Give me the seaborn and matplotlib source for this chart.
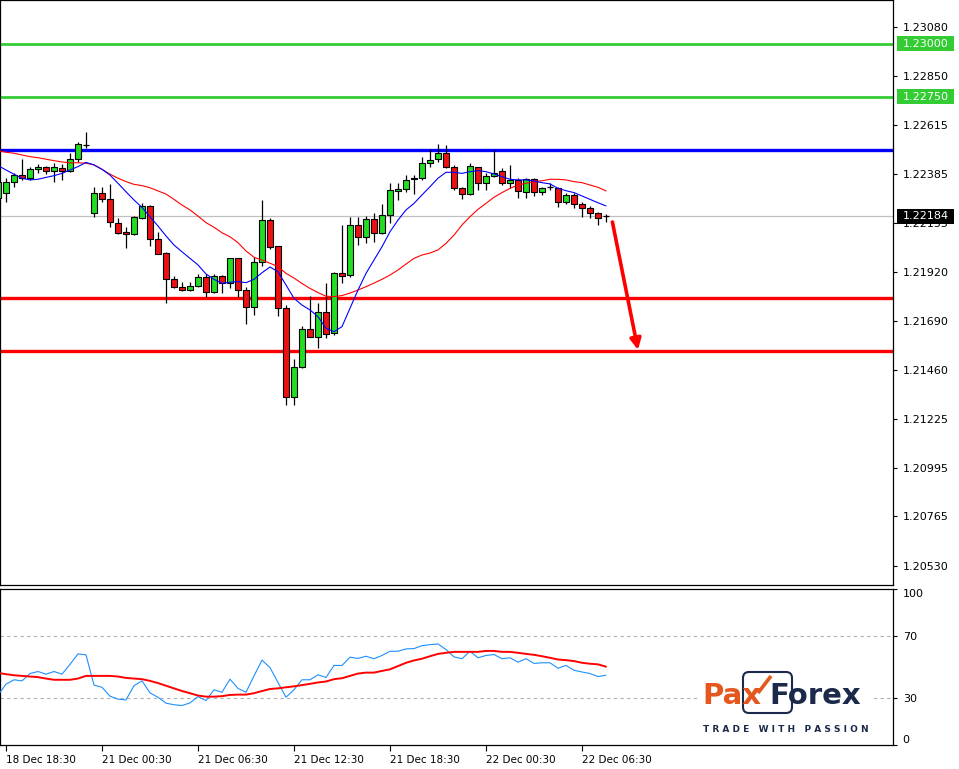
import matplotlib
matplotlib.use("Agg")
import matplotlib.pyplot as plt
from matplotlib.patches import Rectangle, FancyBboxPatch
from matplotlib.lines import Line2D
from matplotlib.transforms import IdentityTransform, blended_transform_factory
import seaborn as sns
import numpy as np

# M30 candles, 18 Dec 18:00 -> 22 Dec 08:00
opens = [1.22271, 1.22295, 1.22347, 1.22380, 1.22366, 1.22409, 1.22418, 1.22399, 1.22413, 1.22399,
         1.22456, 1.22522, 1.22201, 1.22295, 1.22267, 1.22153, 1.22111, 1.22101, 1.22177, 1.22234,
         1.22078, 1.22011, 1.21888, 1.21850, 1.21836, 1.21855, 1.21898, 1.21827, 1.21903, 1.21869,
         1.21988, 1.21836, 1.21756, 1.21969, 1.22167, 1.22044, 1.21751, 1.21330, 1.21472, 1.21652,
         1.21614, 1.21732, 1.21633, 1.21917, 1.21907, 1.22144, 1.22087, 1.22172, 1.22106, 1.22191,
         1.22305, 1.22314, 1.22361, 1.22366, 1.22437, 1.22456, 1.22484, 1.22418, 1.22319, 1.22290,
         1.22418, 1.22342, 1.22376, 1.22399, 1.22342, 1.22357, 1.22300, 1.22361, 1.22300, 1.22323,
         1.22319, 1.22253, 1.22286, 1.22243, 1.22224, 1.22201, 1.22184]
highs = [1.22376, 1.22366, 1.22390, 1.22456, 1.22418, 1.22432, 1.22423, 1.22437, 1.22432, 1.22484,
         1.22536, 1.22584, 1.22323, 1.22323, 1.22338, 1.22177, 1.22134, 1.22186, 1.22248, 1.22238,
         1.22111, 1.22016, 1.21903, 1.21874, 1.21874, 1.21912, 1.21912, 1.21912, 1.21907, 1.21988,
         1.21988, 1.21850, 1.21992, 1.22262, 1.22177, 1.22044, 1.21765, 1.21510, 1.21666, 1.21808,
         1.21775, 1.21869, 1.21921, 1.22144, 1.22182, 1.22182, 1.22186, 1.22201, 1.22243, 1.22342,
         1.22342, 1.22380, 1.22380, 1.22465, 1.22503, 1.22527, 1.22522, 1.22428, 1.22323, 1.22437,
         1.22418, 1.22390, 1.22499, 1.22413, 1.22428, 1.22366, 1.22366, 1.22366, 1.22323, 1.22342,
         1.22323, 1.22295, 1.22295, 1.22253, 1.22234, 1.22205, 1.22196]
lows = [1.22243, 1.22253, 1.22323, 1.22357, 1.22357, 1.22390, 1.22385, 1.22347, 1.22357, 1.22394,
        1.22442, 1.22508, 1.22182, 1.22253, 1.22134, 1.22101, 1.22035, 1.22096, 1.22172, 1.22044,
        1.22007, 1.21775, 1.21846, 1.21832, 1.21832, 1.21850, 1.21803, 1.21822, 1.21822, 1.21846,
        1.21803, 1.21675, 1.21718, 1.21950, 1.22030, 1.21713, 1.21292, 1.21292, 1.21467, 1.21614,
        1.21562, 1.21609, 1.21623, 1.21869, 1.21898, 1.22049, 1.22059, 1.22063, 1.22101, 1.22153,
        1.22262, 1.22300, 1.22290, 1.22357, 1.22418, 1.22442, 1.22413, 1.22309, 1.22267, 1.22286,
        1.22309, 1.22309, 1.22371, 1.22333, 1.22319, 1.22271, 1.22271, 1.22281, 1.22286, 1.22309,
        1.22229, 1.22243, 1.22224, 1.22182, 1.22177, 1.22144, 1.22158]
closes = [1.22347, 1.22347, 1.22380, 1.22366, 1.22409, 1.22418, 1.22399, 1.22418, 1.22399, 1.22456,
          1.22527, 1.22522, 1.22295, 1.22267, 1.22158, 1.22106, 1.22101, 1.22182, 1.22234, 1.22078,
          1.22007, 1.21888, 1.21850, 1.21836, 1.21855, 1.21898, 1.21827, 1.21903, 1.21869, 1.21988,
          1.21836, 1.21756, 1.21969, 1.22167, 1.22040, 1.21751, 1.21330, 1.21472, 1.21652, 1.21614,
          1.21732, 1.21628, 1.21917, 1.21903, 1.22144, 1.22087, 1.22172, 1.22106, 1.22191, 1.22309,
          1.22314, 1.22357, 1.22366, 1.22437, 1.22451, 1.22484, 1.22418, 1.22319, 1.22290, 1.22423,
          1.22342, 1.22376, 1.22390, 1.22342, 1.22357, 1.22305, 1.22361, 1.22300, 1.22319, 1.22323,
          1.22253, 1.22286, 1.22243, 1.22224, 1.22201, 1.22177, 1.22184]

# moving averages as drawn on the chart
ma_fast = [1.22425, 1.22404, 1.22384, 1.22365, 1.22357, 1.22360, 1.22369, 1.22377, 1.22388, 1.22404,
           1.22420, 1.22440, 1.22428, 1.22407, 1.22380, 1.22341, 1.22301, 1.22262, 1.22227, 1.22183,
           1.22139, 1.22092, 1.22049, 1.22017, 1.21986, 1.21955, 1.21912, 1.21887, 1.21868, 1.21873,
           1.21876, 1.21871, 1.21887, 1.21918, 1.21945, 1.21923, 1.21860, 1.21797, 1.21765, 1.21742,
           1.21710, 1.21655, 1.21639, 1.21663, 1.21750, 1.21836, 1.21915, 1.21978, 1.22041, 1.22112,
           1.22167, 1.22215, 1.22246, 1.22286, 1.22325, 1.22365, 1.22393, 1.22393, 1.22388, 1.22396,
           1.22401, 1.22396, 1.22385, 1.22372, 1.22360, 1.22357, 1.22357, 1.22352, 1.22344, 1.22338,
           1.22317, 1.22306, 1.22297, 1.22281, 1.22265, 1.22249, 1.22234]
ma_slow = [1.22495, 1.22488, 1.22483, 1.22475, 1.22467, 1.22462, 1.22455, 1.22448, 1.22442, 1.22438,
           1.22438, 1.22436, 1.22428, 1.22407, 1.22384, 1.22365, 1.22349, 1.22336, 1.22330, 1.22320,
           1.22305, 1.22290, 1.22265, 1.22238, 1.22215, 1.22186, 1.22155, 1.22133, 1.22107, 1.22088,
           1.22060, 1.22021, 1.21991, 1.21978, 1.21963, 1.21947, 1.21915, 1.21893, 1.21867, 1.21844,
           1.21824, 1.21807, 1.21805, 1.21810, 1.21822, 1.21836, 1.21852, 1.21869, 1.21887, 1.21907,
           1.21931, 1.21959, 1.21986, 1.22002, 1.22011, 1.22026, 1.22057, 1.22096, 1.22144, 1.22183,
           1.22218, 1.22246, 1.22275, 1.22297, 1.22317, 1.22333, 1.22341, 1.22349, 1.22353, 1.22360,
           1.22360, 1.22357, 1.22349, 1.22344, 1.22333, 1.22322, 1.22305]

rsi = [32.0, 39.0, 41.8, 41.1, 45.8, 47.1, 45.4, 47.1, 45.4, 51.7,
       58.4, 57.8, 38.4, 37.0, 31.3, 29.4, 28.9, 38.0, 41.1, 33.4,
       30.6, 26.8, 25.8, 25.3, 27.0, 31.0, 28.5, 35.4, 33.8, 42.2,
       36.3, 33.8, 44.3, 54.4, 49.6, 40.1, 30.6, 35.4, 41.8, 41.8,
       45.0, 43.3, 51.0, 51.0, 56.3, 55.5, 56.9, 55.3, 57.4, 60.1,
       60.1, 61.6, 61.8, 63.7, 64.3, 64.8, 61.2, 56.5, 55.3, 60.1,
       55.9, 57.4, 58.0, 55.3, 55.9, 53.1, 55.3, 52.3, 52.7, 52.7,
       49.2, 51.0, 47.9, 46.8, 45.8, 43.9, 44.7]
rsi_ma = [46.2, 45.4, 44.7, 44.3, 43.9, 43.5, 42.6, 41.8, 41.8, 41.8,
          42.6, 44.3, 44.3, 44.3, 44.3, 43.9, 43.0, 42.6, 42.2, 41.1,
          39.7, 38.0, 36.3, 34.6, 33.2, 31.7, 31.0, 31.0, 31.3, 32.1,
          32.3, 32.3, 33.2, 34.6, 35.9, 36.3, 37.0, 37.6, 38.4, 39.2,
          40.1, 40.7, 42.2, 42.8, 44.3, 45.8, 46.4, 46.4, 47.5, 48.5,
          50.6, 52.7, 54.2, 55.3, 56.9, 58.4, 59.1, 59.7, 59.7, 59.7,
          59.7, 60.3, 60.3, 59.7, 59.7, 59.1, 58.4, 57.8, 56.9, 55.9,
          54.8, 54.4, 53.8, 52.7, 52.1, 51.7, 50.2]

price_ticks = [1.23080, 1.22850, 1.22615, 1.22385, 1.22155, 1.21920,
               1.21690, 1.21460, 1.21225, 1.20995, 1.20765, 1.20530]
rsi_ticks = [0, 30, 70, 100]
time_labels = ["18 Dec 18:30", "21 Dec 00:30", "21 Dec 06:30", "21 Dec 12:30",
               "21 Dec 18:30", "22 Dec 00:30", "22 Dec 06:30"]
time_label_pos = [1, 13, 25, 37, 49, 61, 73]

green_levels = [1.23000, 1.22750]
blue_level = 1.22500
red_levels = [1.21800, 1.21550]
last_price = 1.22184
arrow_start = (76.8, 1.22158)
arrow_end = (80.0, 1.21553)

BULL = "#22dd22"
BEAR = "#ee1111"
LVL_GREEN = "#33cc33"

sns.set_theme(style="white")
plt.rcParams["font.family"] = ["DejaVu Sans"]

W, H = 959, 769
fig = plt.figure(figsize=(W / 100, H / 100), dpi=100)
ax = fig.add_axes([0, 1 - 585 / H, 893 / W, 585 / H])
ax_rsi = fig.add_axes([0, 1 - 745 / H, 893 / W, (745 - 589) / H], sharex=ax)

idx = np.arange(len(opens))

# --- main price panel ---
ax.axhline(last_price, color="#c0c0c0", lw=0.9, zorder=1)
for lv in green_levels:
    ax.axhline(lv, color=LVL_GREEN, lw=2.0, zorder=2)
ax.axhline(blue_level, color="#0000ff", lw=2.4, zorder=2)
for lv in red_levels:
    ax.axhline(lv, color="#ff0000", lw=2.4, zorder=2)

for i in idx:
    o, h, l, c = opens[i], highs[i], lows[i], closes[i]
    ax.vlines(i, l, h, color="black", lw=0.9, zorder=3)
    if abs(c - o) < 1e-5:
        ax.hlines(o, i - 0.35, i + 0.35, color="black", lw=0.9, zorder=4)
    else:
        ax.add_patch(Rectangle((i - 0.32, min(o, c)), 0.64, abs(c - o),
                               fc=BULL if c > o else BEAR, ec="black", lw=0.8, zorder=4))

sns.lineplot(x=idx, y=ma_slow, ax=ax, color="#ff0000", lw=0.8, zorder=5, legend=False)
sns.lineplot(x=idx, y=ma_fast, ax=ax, color="#0000ff", lw=0.8, zorder=5, legend=False)

ax.annotate("", xy=arrow_end, xytext=arrow_start,
            arrowprops=dict(arrowstyle="-|>", color="#ff0000", lw=2.6,
                            mutation_scale=16, shrinkA=0, shrinkB=0), zorder=6)

ax.set_xlim(0.25, 111.875)
ax.set_ylim(1.23208 - 585 * 0.0000473, 1.23208)
ax.yaxis.tick_right()
ax.set_yticks(price_ticks)
ax.set_yticklabels([f"{t:.5f}" for t in price_ticks])
ax.tick_params(axis="y", direction="out", length=3, width=0.8, color="black",
               labelsize=8, labelcolor="black", pad=4, right=True, left=False)
ax.tick_params(axis="x", bottom=False, labelbottom=False)
ax.set_xlabel("")
ax.set_ylabel("")

# price labels on the scale
trans = blended_transform_factory(ax.transAxes, ax.transData)
box_h = 15 * 0.0000473
for lv, txt, fc in [(green_levels[0], "1.23000", LVL_GREEN),
                    (green_levels[1], "1.22750", LVL_GREEN),
                    (last_price, "1.22184", "black")]:
    ax.add_patch(Rectangle((1.0045, lv - box_h / 2), 0.064, box_h, transform=trans,
                           fc=fc, ec="none", clip_on=False, zorder=8))
    ax.text(1.0112, lv, txt, transform=trans, color="white", fontsize=8,
            ha="left", va="center", zorder=9, clip_on=False)

# --- RSI panel ---
ax_rsi.axhline(70, color="#b0b0b0", lw=0.8, ls=(0, (3, 3)), zorder=1)
ax_rsi.axhline(30, color="#b0b0b0", lw=0.8, ls=(0, (3, 3)), zorder=1)
sns.lineplot(x=idx, y=rsi, ax=ax_rsi, color="#1e90ff", lw=0.8, zorder=3, legend=False)
sns.lineplot(x=idx, y=rsi_ma, ax=ax_rsi, color="#ff0000", lw=1.4, zorder=3, legend=False)
ax_rsi.set_ylim(0, 100)
ax_rsi.yaxis.tick_right()
ax_rsi.set_yticks(rsi_ticks)
ax_rsi.set_yticklabels([str(t) for t in rsi_ticks])
ax_rsi.tick_params(axis="y", direction="out", length=3, width=0.8, color="black",
                   labelsize=8, labelcolor="black", pad=4, right=True, left=False)
ylabs = ax_rsi.get_yticklabels()
ylabs[0].set_va("bottom")
ylabs[-1].set_va("top")
ax_rsi.set_xticks(time_label_pos)
ax_rsi.set_xticklabels(time_labels, ha="left")
ax_rsi.tick_params(axis="x", direction="out", length=4, width=0.8, color="black",
                   labelsize=7.5, labelcolor="black", pad=3, bottom=True)
ax_rsi.set_xlabel("")
ax_rsi.set_ylabel("")

for a in (ax, ax_rsi):
    for s in a.spines.values():
        s.set_color("black")
        s.set_linewidth(0.9)
    a.grid(False)

# --- PaxForex logo (pixel coordinates) ---
px = IdentityTransform()
ORANGE = "#e4571e"
NAVY = "#1b2a4a"
fig.add_artist(Rectangle((700, H - 738), 174, 70, transform=px, fc="white", ec="none", zorder=5))
fig.add_artist(FancyBboxPatch((743, H - 713), 49, 41, transform=px,
                              boxstyle="round,pad=0,rounding_size=6",
                              fc="none", ec=NAVY, lw=1.5, zorder=6))
fig.text(702, H - 704, "Pax", transform=px, color=ORANGE, fontsize=21,
         fontweight="bold", ha="left", va="baseline", zorder=7)
fig.text(769, H - 704, "Forex", transform=px, color=NAVY, fontsize=21,
         fontweight="bold", ha="left", va="baseline", zorder=7)
fig.add_artist(Line2D([758, 771], [H - 693, H - 676], transform=px,
                      color=ORANGE, lw=2.6, solid_capstyle="butt", zorder=7))
fig.text(703, H - 732, "T R A D E   W I T H   P A S S I O N", transform=px,
         color=NAVY, fontsize=6.5, fontweight="bold", ha="left", va="baseline", zorder=7)

fig.savefig("out.png", dpi=100, facecolor="white")
